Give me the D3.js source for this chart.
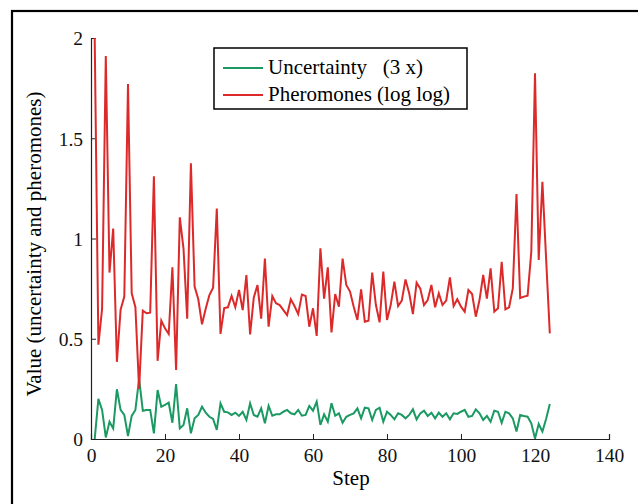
<!DOCTYPE html>
<html><head><meta charset="utf-8">
<script src="https://cdn.jsdelivr.net/npm/d3@7"></script>
<style>body{margin:0;background:#fff}text{font-family:"Liberation Serif","Times New Roman",serif}</style>
</head><body><svg id="c" width="638" height="504"></svg>
<script>
const steps = d3.range(1, 125);
const uncertainty = [0,0.2,0.145,0.008,0.086,0.053,0.248,0.145,0.12,0.015,
0.115,0.145,0.30,0.141,0.145,0.145,0.028,0.244,0.161,0.17,
0.181,0.081,0.274,0.053,0.07,0.153,0.028,0.103,0.12,0.161,
0.131,0.111,0.1,0.045,0.178,0.136,0.133,0.12,0.131,0.115,
0.136,0.095,0.178,0.12,0.111,0.153,0.078,0.165,0.116,0.123,
0.123,0.136,0.145,0.128,0.123,0.145,0.116,0.12,0.165,0.141,
0.186,0.07,0.123,0.086,0.178,0.116,0.128,0.081,0.111,0.12,
0.128,0.153,0.103,0.156,0.153,0.095,0.145,0.156,0.086,0.136,
0.12,0.098,0.128,0.12,0.103,0.12,0.148,0.098,0.128,0.141,
0.115,0.131,0.103,0.131,0.111,0.128,0.098,0.128,0.125,0.136,
0.145,0.111,0.115,0.148,0.128,0.095,0.115,0.086,0.141,0.136,
0.081,0.136,0.128,0.103,0.037,0.12,0.115,0.111,0.078,0.003,
0.075,0.037,0.1,0.175];
const pheromones = [2.0,0.47,0.65,1.91,0.83,1.05,0.385,0.645,0.71,1.77,
0.727,0.657,0.25,0.64,0.627,0.63,1.31,0.39,0.59,0.552,
0.524,0.856,0.344,1.106,0.95,0.6,1.375,0.76,0.697,0.572,
0.65,0.718,0.755,1.15,0.524,0.653,0.657,0.713,0.657,0.743,
0.643,0.818,0.522,0.706,0.768,0.6,0.9,0.56,0.713,0.677,
0.668,0.643,0.618,0.697,0.663,0.623,0.72,0.713,0.56,0.652,
0.514,0.951,0.70,0.856,0.532,0.723,0.66,0.9,0.768,0.735,
0.66,0.594,0.746,0.585,0.59,0.83,0.668,0.582,0.835,0.594,
0.668,0.785,0.663,0.69,0.796,0.727,0.623,0.78,0.75,0.668,
0.693,0.768,0.657,0.727,0.668,0.69,0.806,0.663,0.697,0.66,
0.635,0.743,0.723,0.61,0.693,0.818,0.70,0.851,0.635,0.652,
0.884,0.647,0.657,0.751,1.222,0.703,0.71,0.715,0.934,1.824,
0.893,1.283,0.9,0.527];
const xTicks = [0,20,40,60,80,100,120,140];
const yTicks = [0,0.5,1,1.5,2];
const legendLabels = ["Uncertainty   (3 x)", "Pheromones (log log)"];
const colors = ["#1a9a62", "#dc2a2a"];

const svg = d3.select("#c");
svg.append("rect").attr("x",12).attr("y",11).attr("width",700).attr("height",600)
  .attr("fill","none").attr("stroke","#000").attr("stroke-width",2.2);

const x = d3.scaleLinear().domain([0,140]).range([91,609]);
const y = d3.scaleLinear().domain([0,2]).range([439,38]);

const xa = svg.append("g").attr("transform","translate(0,439)")
  .call(d3.axisBottom(x).tickValues(xTicks).tickSize(-5).tickPadding(9).tickFormat(d3.format("d")));
const ya = svg.append("g").attr("transform","translate(91,0)")
  .call(d3.axisLeft(y).tickValues(yTicks).tickSize(-5).tickPadding(8).tickFormat(d => d));
[xa, ya].forEach(g => {
  g.select(".domain").attr("stroke","#222").attr("stroke-width",1.2);
  g.selectAll(".tick line").attr("stroke","#222");
  g.selectAll("text").attr("font-size",19.5).attr("fill","#111")
   .style("font-family","'Liberation Serif',serif");
});
xa.selectAll("text").attr("dy","0.71em");
ya.selectAll("text").attr("dy","0.35em");

const line = vals => d3.line().x((d,i)=>x(steps[i])).y(d=>y(d))(vals);
svg.append("path").attr("d",line(uncertainty)).attr("fill","none")
  .attr("stroke",colors[0]).attr("stroke-width",2).attr("stroke-linejoin","miter");
svg.append("path").attr("d",line(pheromones)).attr("fill","none")
  .attr("stroke",colors[1]).attr("stroke-width",2).attr("stroke-linejoin","miter");

svg.append("text").attr("x",351).attr("y",485).attr("text-anchor","middle")
  .attr("font-size",21).text("Step");
svg.append("text").attr("transform","translate(41,244) rotate(-90)").attr("text-anchor","middle")
  .attr("font-size",21).text("Value (uncertainty and pheromones)");

const lg = svg.append("g");
lg.append("rect").attr("x",214).attr("y",48).attr("width",253).attr("height",61)
  .attr("fill","#fff").attr("stroke","#000").attr("stroke-width",1.5);
legendLabels.forEach((t,i)=>{
  const yy = 68 + i*27;
  lg.append("line").attr("x1",223).attr("x2",263).attr("y1",yy).attr("y2",yy)
    .attr("stroke",colors[i]).attr("stroke-width",2);
  lg.append("text").attr("x",268).attr("y",yy+6).attr("font-size",21)
    .attr("xml:space","preserve").style("white-space","pre").text(t);
});
</script></body></html>
